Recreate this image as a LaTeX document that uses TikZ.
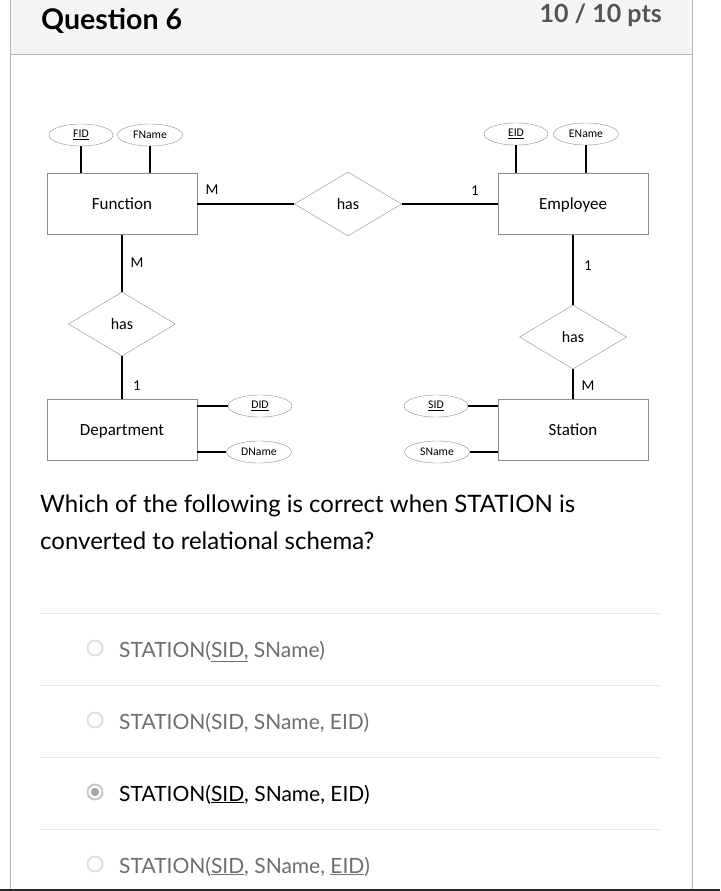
\documentclass[tikz,border=0pt]{standalone}
\usepackage{fontspec}
\setmainfont{Lato}
\newfontfamily\erfont{Carlito}
\usepackage{xcolor}
\usetikzlibrary{
    shapes.geometric,
    positioning
}
\definecolor{hdrgray}{HTML}{F5F5F5}
\definecolor{framegray}{HTML}{B4B4B4}
\definecolor{divgray}{HTML}{E8E8E8}
\definecolor{boxgray}{HTML}{8C8C8C}
\definecolor{ptsgray}{HTML}{555555}
\definecolor{optgray}{HTML}{6E6E6E}
\definecolor{radiogray}{HTML}{DCDCDE}
\definecolor{radiosel}{HTML}{C4C4CA}
\definecolor{dotsel}{HTML}{A6A6AE}
\tikzset{
  entity/.style = {
      draw=boxgray,
      rectangle,
      minimum width=150pt,
      minimum height=61pt,
      inner sep=0pt,
      text height=11pt,
      text depth=0pt,
      font=\erfont\fontsize{17}{18}\selectfont
  },
  relation/.style = {
      draw=boxgray,
      diamond,
      minimum width=107pt,
      minimum height=64pt,
      inner sep=0pt,
      font=\erfont\fontsize{16}{18}\selectfont
  },
  attrib/.style = {
      draw=boxgray,
      ellipse,
      minimum width=64pt,
      minimum height=22pt,
      inner sep=0pt,
      font=\erfont\fontsize{11.7}{12}\selectfont
  },
  link/.style = {
      line width=1.3pt
  },
  card/.style = {
      inner sep=0pt,
      font=\erfont\fontsize{15}{16}\selectfont
  },
  radio/.style = {
      circle,
      draw=radiogray,
      line width=1.8pt,
      minimum size=15pt,
      inner sep=0pt
  },
  option/.style = {
      anchor=base west,
      inner sep=0pt,
      text=optgray,
      font=\fontsize{21}{24}\selectfont
  },
  divider/.style = {
      draw=divgray,
      line width=1pt
  }
}
\begin{document}
\begin{tikzpicture}[x=1pt, y=-1pt]
        \useasboundingbox (0,0) rectangle (720,891);
        % Frame
        \fill[hdrgray] (10,0) rectangle (692,55);
        \draw[framegray, line width=1pt] (10,55) -- (692,55);
        \draw[framegray, line width=1pt] (10,0) -- (10,889);
        \draw[framegray, line width=1pt] (692,0) -- (692,889);
        \fill[black!85] (0,888.5) rectangle (720,891);
        \node[anchor=base west, inner sep=0pt, font=\bfseries\fontsize{28.5}{30}\selectfont] (title) at (41,30) {Question 6};
        \node[anchor=base east, inner sep=0pt, text=ptsgray, font=\bfseries\fontsize{25}{28}\selectfont] (pts) at (662,23) {10 / 10 pts};
        % Entities and relationships
        \node[entity] (fun) at (122,204) {Function};
        \node[entity] (emp) at (573,204) {Employee};
        \node[entity] (dep) at (122,430) {Department};
        \node[entity] (sta) at (573,430) {Station};
        \node[relation] (hasFE) at (348,204) {has};
        \node[relation] (hasFD) at (122,324) {has};
        \node[relation] (hasES) at (573,337) {has};
        % Attributes
        \node[attrib] (fid) at (81,135) {\underline{FID}};
        \node[attrib, minimum width=65pt] (fname) at (150,135) {FName};
        \node[attrib] (eid) at (516,134) {\underline{EID}};
        \node[attrib, minimum width=65pt] (ename) at (586,134) {EName};
        \node[attrib] (did) at (260,406) {\underline{DID}};
        \node[attrib, minimum width=65pt] (dname) at (259,452) {DName};
        \node[attrib] (sid) at (436,406) {\underline{SID}};
        \node[attrib, minimum width=65pt] (sname) at (437,452) {SName};
        % Edges
        \draw[link] (fun) -- (hasFE);
        \draw[link] (hasFE) -- (emp);
        \draw[link] (fun) -- (hasFD);
        \draw[link] (hasFD) -- (dep);
        \draw[link] (emp) -- (hasES);
        \draw[link] (hasES) -- (sta);
        \draw[link] (fid.south) -- (fid.south |- fun.north);
        \draw[link] (fname.south) -- (fname.south |- fun.north);
        \draw[link] (eid.south) -- (eid.south |- emp.north);
        \draw[link] (ename.south) -- (ename.south |- emp.north);
        \draw[link] (did.west) -- (did.west -| dep.east);
        \draw[link] (dname.west) -- (dname.west -| dep.east);
        \draw[link] (sid.east) -- (sid.east -| sta.west);
        \draw[link] (sname.east) -- (sname.east -| sta.west);
        % Cardinalities
        \node[card] (cFE) at (212,190) {M};
        \node[card] (cEF) at (475,191) {1};
        \node[card] (cFD) at (137,263) {M};
        \node[card] (cDF) at (137,386) {1};
        \node[card] (cES) at (588,266) {1};
        \node[card] (cSE) at (588,386) {M};
        % Question
        \node[anchor=base west, inner sep=0pt, font=\fontsize{24}{26}\selectfont] (q1) at (40,512) {Which of the following is correct when STATION is};
        \node[anchor=base west, inner sep=0pt, font=\fontsize{24}{26}\selectfont] (q2) at (40,549) {converted to relational schema?};
        % Answers
        \foreach \y in {613,685,757,829}
            \draw[divider] (40,\y) -- (662,\y);
        \node[radio] (r1) at (95,648) {};
        \node[radio] (r2) at (95,720) {};
        \node[radio, draw=radiosel] (r3) at (95,792) {};
        \node[radio] (r4) at (95,864) {};
        \fill[dotsel] (r3) circle (4.2pt);
        \node[option] (a1) at (119,657) {STATION(\underline{SID,} SName)};
        \node[option] (a2) at (119,729) {STATION(SID, SName, EID)};
        \node[option, text=black] (a3) at (119,801) {STATION(\underline{SID}, SName, EID)};
        \node[option] (a4) at (119,873) {STATION(\underline{SID}, SName, \underline{EID})};
\end{tikzpicture}
\end{document}
